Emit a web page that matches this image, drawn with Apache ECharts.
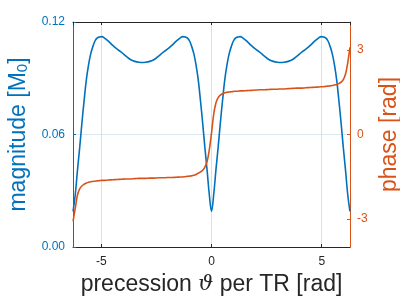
<!DOCTYPE html>
<html>
<head>
<meta charset="utf-8">
<script src="https://cdn.jsdelivr.net/npm/echarts@6/dist/echarts.min.js"></script>
<style>
  html, body { margin: 0; padding: 0; background: #fff; }
  #chart { width: 400px; height: 300px; }
</style>
</head>
<body>
<div id="chart"></div>
<script>
// precession angle per TR [rad]
var theta = [
  -6.28, -6.18, -6.08, -5.98, -5.88, -5.78, -5.68, -5.58, -5.48, -5.38, -5.28, -5.18,
  -5.08, -4.98, -4.88, -4.68, -4.48, -4.28, -4.08, -3.88, -3.68, -3.48, -3.28, -3.14,
  -3.0, -2.8, -2.6, -2.4, -2.2, -2.0, -1.8, -1.6, -1.4, -1.3, -1.2, -1.1,
  -1.0, -0.9, -0.8, -0.7, -0.6, -0.5, -0.4, -0.3, -0.2, -0.1, 0,
  0.1, 0.2, 0.3, 0.4, 0.5, 0.6, 0.7, 0.8, 0.9, 1.0, 1.1, 1.2,
  1.3, 1.4, 1.6, 1.8, 2.0, 2.2, 2.4, 2.6, 2.8, 3.0, 3.14,
  3.28, 3.48, 3.68, 3.88, 4.08, 4.28, 4.48, 4.68, 4.88, 4.98, 5.08, 5.18,
  5.28, 5.38, 5.48, 5.58, 5.68, 5.78, 5.88, 5.98, 6.08, 6.18, 6.28
];

// magnitude [M0]
var magnitude = [
  0.019, 0.028, 0.041, 0.053, 0.066, 0.078, 0.089, 0.097, 0.103, 0.107, 0.110, 0.1115,
  0.112, 0.1122, 0.1117, 0.1098, 0.1075, 0.1055, 0.1038, 0.1018, 0.1000, 0.0990, 0.0985, 0.0984,
  0.0985, 0.0990, 0.1000, 0.1018, 0.1038, 0.1055, 0.1075, 0.1098, 0.1117, 0.1122, 0.112, 0.1115,
  0.110, 0.107, 0.103, 0.097, 0.089, 0.078, 0.066, 0.053, 0.041, 0.028, 0.019,
  0.028, 0.041, 0.053, 0.066, 0.078, 0.089, 0.097, 0.103, 0.107, 0.110, 0.1115, 0.112,
  0.1122, 0.1117, 0.1098, 0.1075, 0.1055, 0.1038, 0.1018, 0.1000, 0.0990, 0.0985, 0.0984,
  0.0985, 0.0990, 0.1000, 0.1018, 0.1038, 0.1055, 0.1075, 0.1098, 0.1117, 0.1122, 0.112, 0.1115,
  0.110, 0.107, 0.103, 0.097, 0.089, 0.078, 0.066, 0.053, 0.041, 0.028, 0.019
];

// phase [rad]
var phase = [
  -3.09, -2.62, -2.15, -1.93, -1.83, -1.77, -1.73, -1.70, -1.68, -1.67, -1.66, -1.65,
  -1.64, -1.63, -1.63, -1.62, -1.61, -1.60, -1.59, -1.58, -1.58, -1.57, -1.56, -1.56,
  -1.56, -1.55, -1.55, -1.54, -1.54, -1.53, -1.53, -1.52, -1.51, -1.51, -1.50, -1.49,
  -1.48, -1.47, -1.45, -1.42, -1.38, -1.33, -1.27, -1.16, -0.96, -0.55, 0.05,
  0.72, 1.12, 1.31, 1.40, 1.45, 1.48, 1.50, 1.51, 1.52, 1.53, 1.54, 1.54,
  1.55, 1.55, 1.56, 1.57, 1.58, 1.59, 1.59, 1.60, 1.61, 1.61, 1.62,
  1.62, 1.63, 1.64, 1.65, 1.65, 1.66, 1.67, 1.68, 1.69, 1.70, 1.70, 1.71,
  1.72, 1.73, 1.74, 1.76, 1.78, 1.81, 1.86, 1.95, 2.15, 2.55, 3.10
];

var blue = '#0072BD';
var orange = '#D95319';
var dark = '#262626';
var font = 'Liberation Sans';

function pairs(xs, ys) {
  var out = [];
  for (var i = 0; i < xs.length; i++) out.push([xs[i], ys[i]]);
  return out;
}

var chart = echarts.init(document.getElementById('chart'), null, { renderer: 'canvas' });

var option = {
  animation: false,
  grid: {
    left: 73, right: 50, top: 22, bottom: 53,
    outerBoundsMode: 'none',
    containLabel: false
  },
  xAxis: [
    {
      type: 'value',
      min: -2 * Math.PI,
      max: 2 * Math.PI,
      splitNumber: 3,
      name: 'precession {i|ϑ} per TR [rad]',
      nameLocation: 'middle',
      nameGap: 18,
      nameTextStyle: {
        fontFamily: font, fontSize: 23, color: dark,
        rich: { i: { fontFamily: 'DejaVu Serif', fontStyle: 'italic', fontSize: 21, color: dark } }
      },
      axisLine: { onZero: false, lineStyle: { color: dark, width: 1 } },
      axisTick: { inside: true, length: 3, lineStyle: { color: dark } },
      axisLabel: {
        fontFamily: font, fontSize: 12, color: dark, margin: 9,
        showMinLabel: false, showMaxLabel: false
      },
      splitLine: { show: true, lineStyle: { color: '#dfdfdf', width: 1 } }
    },
    {
      // top box edge
      type: 'value',
      position: 'top',
      min: -2 * Math.PI,
      max: 2 * Math.PI,
      splitNumber: 3,
      axisLine: { show: true, onZero: false, lineStyle: { color: dark, width: 1 } },
      axisTick: { show: true, inside: true, length: 3, lineStyle: { color: dark } },
      axisLabel: { show: false },
      splitLine: { show: false }
    }
  ],
  yAxis: [
    {
      type: 'value',
      min: 0,
      max: 0.12,
      interval: 0.06,
      position: 'left',
      name: 'magnitude [M{sub|0}]',
      nameLocation: 'middle',
      nameGap: 42,
      nameRotate: 90,
      nameTextStyle: {
        fontFamily: font, fontSize: 23, color: blue,
        rich: { sub: { fontFamily: font, fontSize: 15, color: blue, padding: [10, 0, 0, 0] } }
      },
      axisLine: { show: true, onZero: false, lineStyle: { color: blue, width: 1 } },
      axisTick: { show: true, inside: true, length: 3, lineStyle: { color: blue } },
      axisLabel: {
        fontFamily: font, fontSize: 12, color: blue, margin: 8,
        formatter: function (v) { return v.toFixed(2); }
      },
      splitLine: { show: true, lineStyle: { color: '#d9eaf5', width: 1 } }
    },
    {
      type: 'value',
      min: -4,
      max: 4,
      splitNumber: 3,
      position: 'right',
      name: 'phase [rad]',
      nameLocation: 'middle',
      nameGap: 26,
      nameRotate: 90,
      nameTextStyle: { fontFamily: font, fontSize: 23, color: orange },
      axisLine: { show: true, onZero: false, lineStyle: { color: orange, width: 1 } },
      axisTick: { show: true, inside: true, length: 3, lineStyle: { color: orange } },
      axisLabel: {
        fontFamily: font, fontSize: 12, color: orange, margin: 7,
        showMinLabel: false, showMaxLabel: false
      },
      splitLine: { show: false }
    }
  ],
  series: [
    {
      name: 'magnitude',
      type: 'line',
      xAxisIndex: 0,
      yAxisIndex: 0,
      data: pairs(theta, magnitude),
      showSymbol: false,
      smooth: 0.4,
      lineStyle: { color: blue, width: 1.6 },
      itemStyle: { color: blue }
    },
    {
      name: 'phase',
      type: 'line',
      xAxisIndex: 0,
      yAxisIndex: 1,
      data: pairs(theta, phase),
      showSymbol: false,
      smooth: 0.4,
      lineStyle: { color: orange, width: 1.6 },
      itemStyle: { color: orange }
    }
  ]
};

chart.setOption(option);
</script>
</body>
</html>
